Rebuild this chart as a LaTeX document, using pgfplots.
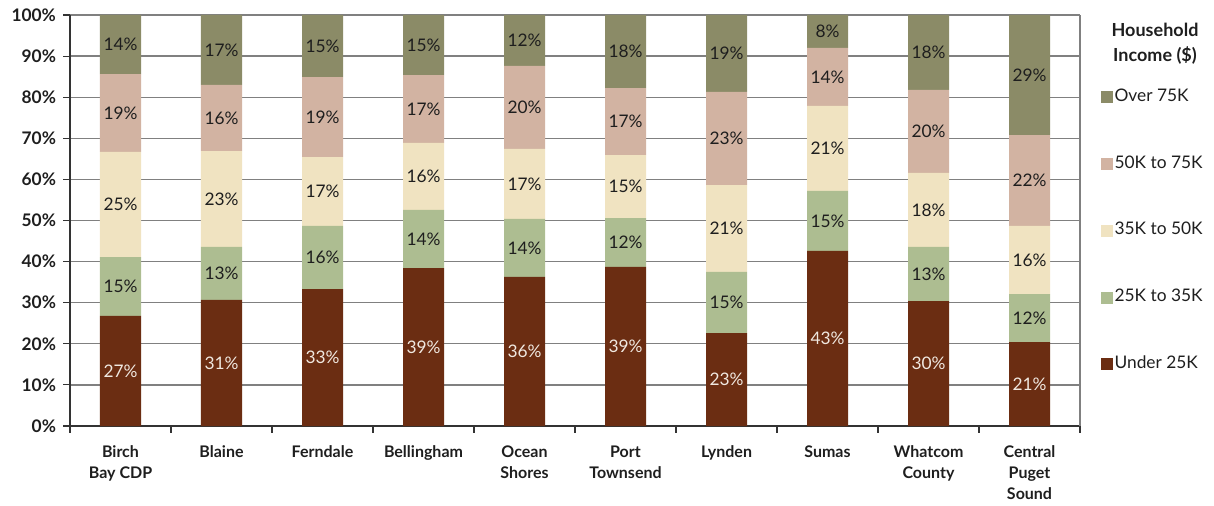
\documentclass[border=0pt]{standalone}
\usepackage{pgfplots}
\pgfplotsset{compat=1.18}
\usepackage{pgfplotstable}
\usepackage{fontspec}
\setmainfont{Lato}
\definecolor{cBrown}{RGB}{107,45,18}
\definecolor{cGreen}{RGB}{173,189,145}
\definecolor{cCream}{RGB}{240,227,193}
\definecolor{cPink}{RGB}{210,179,162}
\definecolor{cOlive}{RGB}{139,139,103}
\definecolor{cGrid}{RGB}{128,128,128}
\definecolor{cText}{RGB}{30,30,30}
\definecolor{cLight}{RGB}{240,232,224}

% segment sizes (percent)
\pgfplotstableread{
x  v1   v2   v3   v4   v5
0  26.8 14.3 25.6 18.9 14.4
1  30.7 12.9 23.3 16.1 17.0
2  33.3 15.4 16.7 19.5 15.1
3  38.4 14.2 16.3 16.5 14.6
4  36.3 14.1 17.0 20.2 12.4
5  38.7 11.9 15.3 16.3 17.8
6  22.6 14.9 21.1 22.7 18.7
7  42.6 14.6 20.7 14.1 8.0
8  30.4 13.2 18.0 20.2 18.2
9  20.4 11.7 16.6 22.1 29.2
}\values

% label positions (segment middles) and label texts
\pgfplotstableread{
x m1    l1 m2    l2 m3    l3 m4    l4 m5   l5
0 13.4  27 33.95 15 53.9  25 76.15 19 92.8 14
1 15.35 31 37.15 13 55.25 23 74.95 16 91.5 17
2 16.65 33 41.0  16 57.05 17 75.15 19 92.45 15
3 19.2  39 45.5  14 60.75 16 77.15 17 92.7 15
4 18.15 36 43.35 14 58.9  17 77.5  20 93.8 12
5 19.35 39 44.65 12 58.25 15 74.05 17 91.1 18
6 11.3  23 30.05 15 48.05 21 69.95 23 90.65 19
7 21.3  43 49.9  15 67.55 21 84.95 14 96.0 8
8 15.2  30 37.0  13 52.6  18 71.7  20 90.9 18
9 10.2  21 26.25 12 40.4  16 59.75 22 85.4 29
}\labels

\pgfplotsset{
  geom/.style={
    at={(52.5pt,-11.25pt)}, anchor=north west,
    scale only axis, width=757.5pt, height=308.25pt,
    xmin=-0.5, xmax=9.5, ymin=0, ymax=100,
  },
  lab/.style={
    draw=none, mark=none, nodes near coords={\pgfplotspointmeta\%},
    point meta=explicit symbolic,
    every node near coord/.style={anchor=center, inner sep=0pt,
      font=\fontsize{13}{15}\selectfont, text=#1},
  },
}

\begin{document}
\begin{tikzpicture}
\path[use as bounding box] (0,0) rectangle (910.5pt,-379.5pt);
\begin{axis}[
  geom, name=main,
  ybar stacked, bar width=0.406,
  axis x line*=bottom, axis y line*=left,
  axis line style={draw=black!80, line width=1pt},
  ytick={0,10,...,100},
  yticklabels={0\%,10\%,20\%,30\%,40\%,50\%,60\%,70\%,80\%,90\%,100\%},
  yticklabel style={font=\bfseries\fontsize{13}{15}\selectfont, text=cText, xshift=-2pt},
  ymajorgrids, grid style={cGrid, line width=1pt},
  tick align=outside, major tick length=5pt,
  tick style={black!80, line width=0.8pt},
  xtick={-0.5,0.5,...,9.5}, xticklabels={},
  extra x ticks={0,1,2,3,4,5,6,7,8,9},
  extra x tick labels={{Birch\\Bay CDP},Blaine,Ferndale,Bellingham,{Ocean\\Shores},{Port\\Townsend},Lynden,Sumas,{Whatcom\\County},{Central\\Puget\\Sound}},
  extra x tick style={major tick length=0pt, xticklabel style={font=\bfseries\fontsize{12}{15.75}\selectfont, text=cText, align=center, anchor=north, yshift=-11.5pt}},
  legend image code/.code={\fill[#1] (0pt,-4.5pt) rectangle (9pt,4.5pt);},
  reverse legend,
  legend cell align=left,
  legend style={at={(1,1)}, anchor=north west, xshift=15.75pt, yshift=-54.5pt,
    draw=none, fill=none, row sep=36.1pt, inner sep=0pt,
    font=\fontsize{13}{15}\selectfont,
    nodes={inner sep=1pt, text height=9pt, text depth=3pt, text=cText}},
]
\addplot[fill=cBrown, draw=none] table[x=x, y=v1] {\values};
\addlegendentry{Under 25K}
\addplot[fill=cGreen, draw=none] table[x=x, y=v2] {\values};
\addlegendentry{25K to 35K}
\addplot[fill=cCream, draw=none] table[x=x, y=v3] {\values};
\addlegendentry{35K to 50K}
\addplot[fill=cPink, draw=none] table[x=x, y=v4] {\values};
\addlegendentry{50K to 75K}
\addplot[fill=cOlive, draw=none] table[x=x, y=v5] {\values};
\addlegendentry{Over 75K}
\end{axis}
\begin{axis}[geom, hide axis]
\addplot[lab=cLight] table[x=x, y=m1, meta=l1] {\labels};
\addplot[lab=cText] table[x=x, y=m2, meta=l2] {\labels};
\addplot[lab=cText] table[x=x, y=m3, meta=l3] {\labels};
\addplot[lab=cText] table[x=x, y=m4, meta=l4] {\labels};
\addplot[lab=cText] table[x=x, y=m5, meta=l5] {\labels};
\end{axis}
\draw[cGrid, line width=1pt] (main.south east) -- (main.north east);
\node[font=\bfseries\fontsize{13.5}{18.5}\selectfont, align=center, text=cText] at ([xshift=56.25pt, yshift=-21.5pt]main.north east) {Household\\Income (\$)};
\end{tikzpicture}
\end{document}
